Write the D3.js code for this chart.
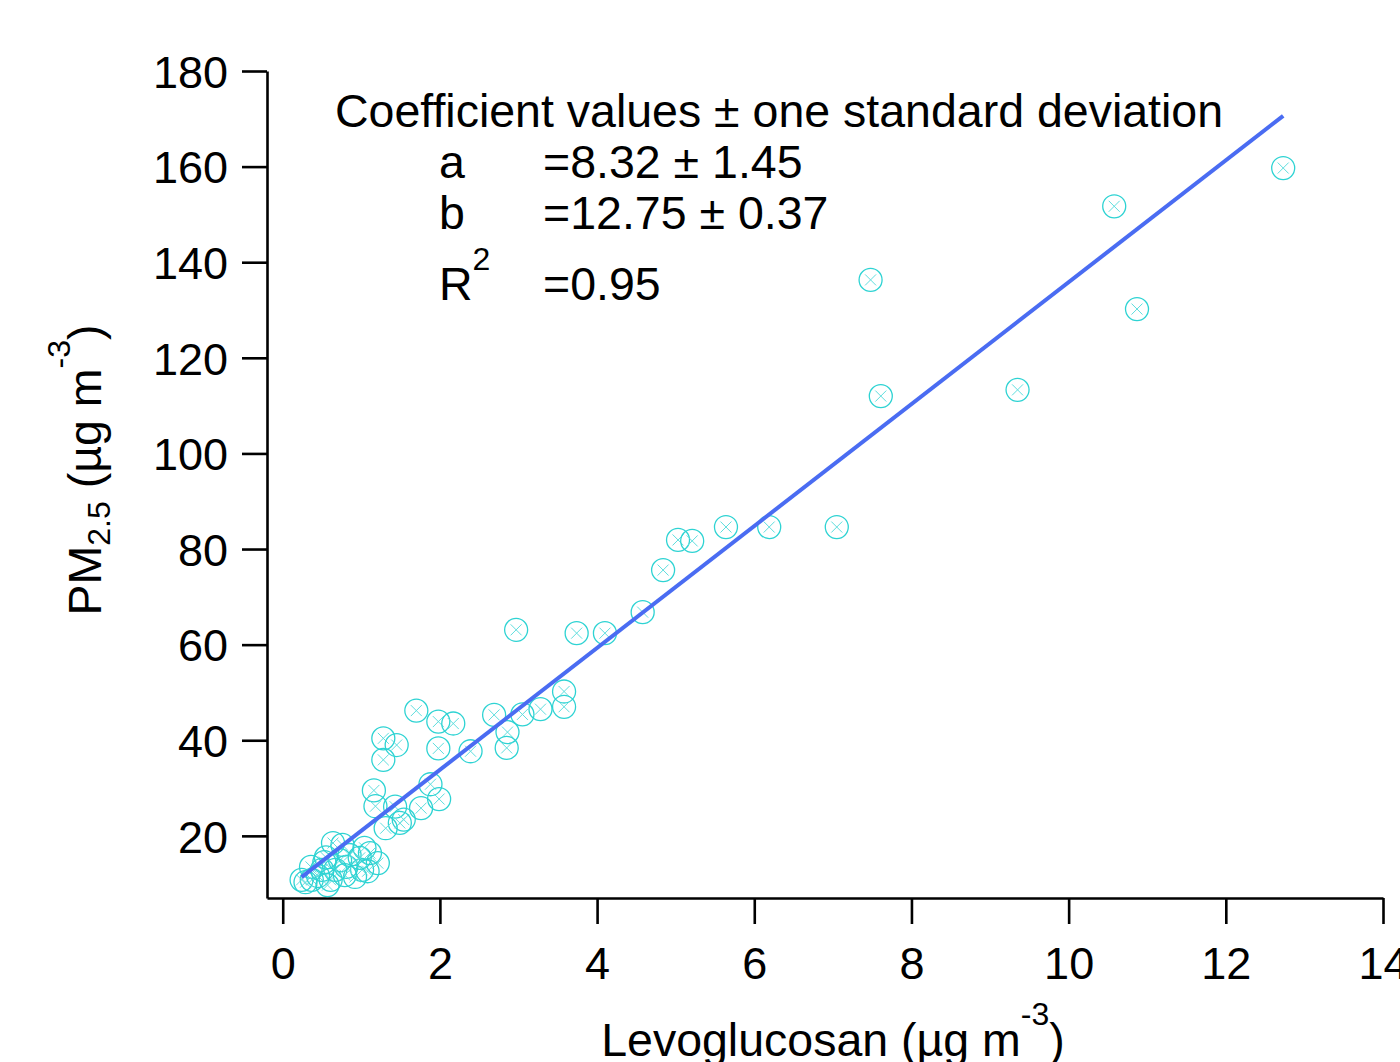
<!DOCTYPE html>
<html>
<head>
<meta charset="utf-8">
<script src="https://cdn.jsdelivr.net/npm/d3@7"></script>
<style>
	body { margin: 0; background: white; }
	text { font-family: "Liberation Sans", Arial, sans-serif; fill: black; }
</style>
</head>
<body>
<div id="chart"></div>
<script>
let width = 1400;
let height = 1062;

// levoglucosan (ug m-3) and PM2.5 (ug m-3)
let levoglucosan = [12.73, 10.58, 7.48, 10.87, 9.35, 7.61, 5.64, 6.19, 7.05, 5.03,
	5.21, 4.84, 4.58, 2.97, 3.74, 4.10, 3.58, 3.58, 3.28, 3.05,
	2.69, 2.86, 2.85, 2.39, 1.70, 1.98, 2.17, 1.98, 1.28, 1.45,
	1.28, 1.88, 1.99, 1.16, 1.18, 1.43, 1.76, 1.54, 1.49, 1.31,
	0.64, 0.76, 1.04, 1.21, 1.01, 0.92, 0.81, 0.73, 0.53, 0.36,
	0.29, 0.45, 0.61, 0.50, 0.67, 0.85, 1.11, 0.37, 0.57, 0.79,
	0.24, 0.55, 0.98, 1.08];
let pm25 = [159.7, 151.7, 136.3, 130.2, 113.3, 112.0, 84.6, 84.6, 84.6, 81.9,
	81.7, 75.6, 66.8, 63.1, 62.4, 62.4, 50.2, 47.0, 46.5, 45.4,
	45.3, 41.7, 38.4, 37.7, 46.2, 43.9, 43.5, 38.3, 40.4, 39.0,
	35.9, 30.8, 27.7, 29.5, 26.2, 26.1, 25.8, 23.4, 22.7, 21.6,
	18.5, 18.1, 17.5, 14.3, 12.9, 11.4, 13.5, 14.9, 14.5, 13.5,
	10.3, 11.6, 10.8, 12.9, 12.9, 16.0, 16.4, 10.8, 9.7, 11.8,
	10.8, 15.5, 15.4, 12.6];

let xTicks = [0, 2, 4, 6, 8, 10, 12, 14];
let yTicks = [20, 40, 60, 80, 100, 120, 140, 160, 180];

// fit: PM2.5 = a + b * levoglucosan
let fitA = 8.32;
let fitAErr = 1.45;
let fitB = 12.75;
let fitBErr = 0.37;
let fitR2 = 0.95;

let points = levoglucosan.map(function(d, i){ return {x: d, y: pm25[i]}; });

let svg = d3.select("#chart")
	.append("svg")
	.attr("width", width)
	.attr("height", height)
	.style("background-color", "white");

let x = d3.scaleLinear().domain([-0.2, 14]).range([267, 1383]);
let y = d3.scaleLinear().domain([7, 180]).range([898, 71]);

/*---------------- axes ----------------*/

let xAxis = svg.append("g")
	.attr("transform", "translate(0,898)")
	.call(d3.axisBottom(x).tickValues(xTicks).tickSize(26).tickSizeOuter(0).tickPadding(23));

let yAxis = svg.append("g")
	.attr("transform", "translate(267,0)")
	.call(d3.axisLeft(y).tickValues(yTicks).tickSize(25).tickSizeOuter(0).tickPadding(14));

svg.selectAll(".domain, .tick line")
	.attr("stroke", "black")
	.attr("stroke-width", 2.6);

svg.selectAll(".tick text")
	.style("font-family", "'Liberation Sans', Arial, sans-serif")
	.style("font-size", "45px")
	.attr("fill", "black");

yAxis.selectAll(".tick text").attr("dy", "0.36em");

/*---------------- markers ----------------*/

let marks = svg.append("g")
	.selectAll(".mark")
	.data(points)
	.enter().append("g")
	.classed("mark", true)
	.attr("transform", function(d){ return "translate(" + x(d.x) + "," + y(d.y) + ")"; });

marks.append("circle")
	.attr("r", 11.5)
	.attr("fill", "none")
	.attr("stroke", "#2ed3d3")
	.attr("stroke-width", 1.3);

marks.append("path")
	.attr("d", "M-5.5,-5.5L5.5,5.5M-5.5,5.5L5.5,-5.5")
	.attr("fill", "none")
	.attr("stroke", "#5fdede")
	.attr("stroke-width", 1);

/*---------------- fit line ----------------*/

let xExtent = d3.extent(levoglucosan);

svg.append("line")
	.attr("x1", x(xExtent[0]))
	.attr("y1", y(fitA + fitB * xExtent[0]))
	.attr("x2", x(xExtent[1]))
	.attr("y2", y(fitA + fitB * xExtent[1]))
	.attr("stroke", "#4a6cf2")
	.attr("stroke-width", 4);

/*---------------- annotation ----------------*/

let note = svg.append("g").style("font-size", "46.5px");

note.append("text")
	.attr("x", 335)
	.attr("y", 127)
	.text("Coefficient values \u00b1 one standard deviation");

let rows = [
	{name: "a", value: "=" + fitA.toFixed(2) + " \u00b1 " + fitAErr.toFixed(2), yy: 178},
	{name: "b", value: "=" + fitB.toFixed(2) + " \u00b1 " + fitBErr.toFixed(2), yy: 229},
	{name: "R", value: "=" + fitR2.toFixed(2), yy: 300}
];

rows.forEach(function(r){
	let t = note.append("text").attr("x", 439).attr("y", r.yy).text(r.name);
	if (r.name == "R") {
		t.append("tspan").attr("dy", -30).style("font-size", "32px").text("2");
	}
	note.append("text").attr("x", 543).attr("y", r.yy).text(r.value);
});

/*---------------- axis titles ----------------*/

let xTitle = svg.append("text")
	.attr("x", 833)
	.attr("y", 1056)
	.attr("text-anchor", "middle")
	.style("font-size", "46.5px");
xTitle.append("tspan").text("Levoglucosan (\u00b5g m");
xTitle.append("tspan").attr("dy", -31).style("font-size", "32px").text("-3");
xTitle.append("tspan").attr("dy", 31).text(")");

let yTitle = svg.append("text")
	.attr("transform", "translate(101,470) rotate(-90)")
	.attr("text-anchor", "middle")
	.style("font-size", "46.5px");
yTitle.append("tspan").text("PM");
yTitle.append("tspan").attr("dy", 9).style("font-size", "32px").text("2.5");
yTitle.append("tspan").attr("dy", -9).text(" (\u00b5g m");
yTitle.append("tspan").attr("dy", -31).style("font-size", "32px").text("-3");
yTitle.append("tspan").attr("dy", 31).text(")");
</script>
</body>
</html>
